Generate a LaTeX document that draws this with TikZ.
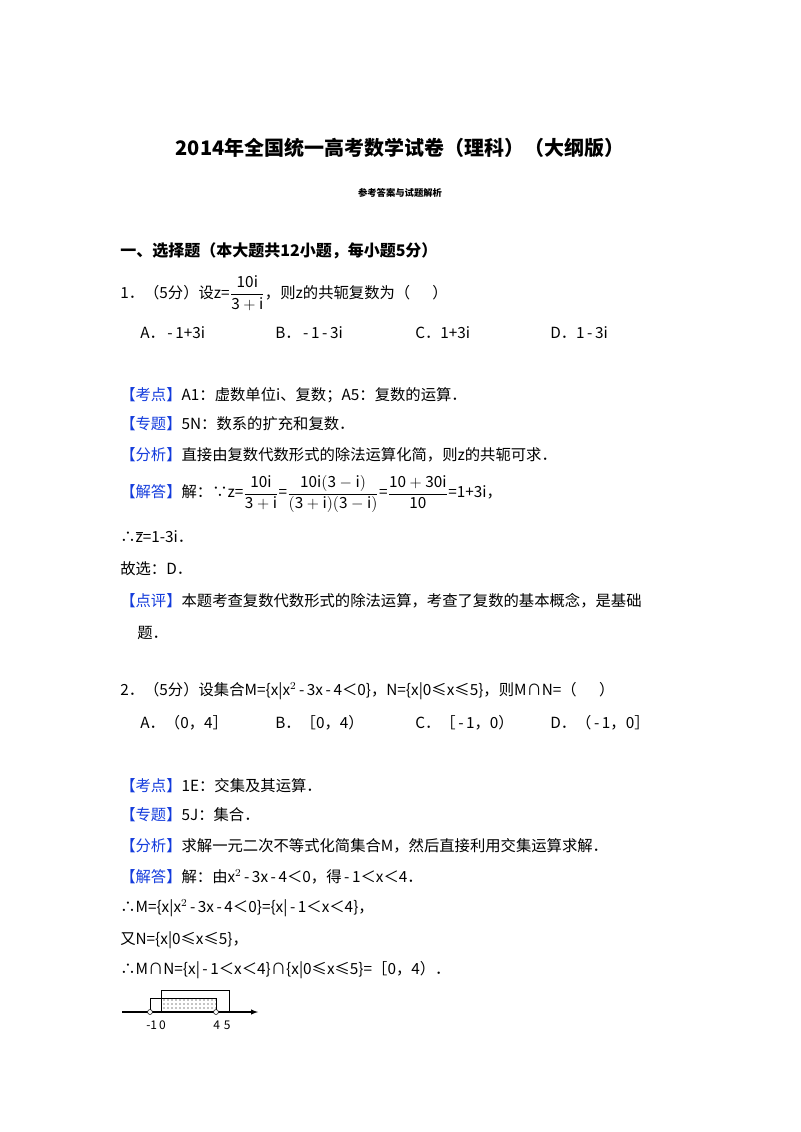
\documentclass[tikz,border=0pt]{standalone}
\usepackage{fontspec}
\setmainfont{Noto Sans CJK SC}
\usetikzlibrary{patterns}
\definecolor{tagblue}{RGB}{20,60,220}
\newcommand{\fr}[2]{$\displaystyle\frac{\mathrm{#1}}{\mathrm{#2}}$}
\begin{document}
\begin{tikzpicture}[x=0.75pt,y=-0.75pt,
  t/.style={anchor=west,inner sep=0pt,font=\fontsize{11.5}{14}\selectfont},
  tag/.style={t,text=tagblue}]
\useasboundingbox (0,0) rectangle (800,1132);
\node[font=\fontsize{15}{18}\selectfont\bfseries] (title) at (400,148) {2014年全国统一高考数学试卷（理科）（大纲版）};
\node[font=\fontsize{7}{9}\selectfont\bfseries] (sub) at (400,193) {参考答案与试题解析};
\node[t,font=\fontsize{12}{14}\selectfont\bfseries] (sec) at (120,251) {一、选择题（本大题共12小题，每小题5分）};
\node[t] (q1) at (120,293) {1．（5分）设z=\fr{10i}{3+i}，则z的共轭复数为（\quad\ \ ）};
\node[t] (a1) at (140,333) {A．\,-\,1+3i};
\node[t] (b1) at (275,333) {B．\,-\,1\,-\,3i};
\node[t] (c1) at (415,333) {C．1+3i};
\node[t] (d1) at (550,333) {D．1\,-\,3i};
\node[t] (k1) at (120,395) {\textcolor{tagblue}{【考点】}A1：虚数单位i、复数；A5：复数的运算．};
\node[t] (z1) at (120,424) {\textcolor{tagblue}{【专题】}5N：数系的扩充和复数．};
\node[t] (f1) at (120,455) {\textcolor{tagblue}{【分析】}直接由复数代数形式的除法运算化简，则z的共轭可求．};
\node[t] (j1) at (120,494) {\textcolor{tagblue}{【解答】}解：∵z=\fr{10i}{3+i}=\fr{10i(3-i)}{(3+i)(3-i)}=\fr{10+30i}{10}=1+3i，};
\node[t] (s1) at (120,537) {∴$\overline{\mathrm{z}}$=1-3i．};
\node[t] (g1) at (120,569) {故选：D．};
\node[t] (p1) at (120,601) {\textcolor{tagblue}{【点评】}本题考查复数代数形式的除法运算，考查了复数的基本概念，是基础};
\node[t] (p1b) at (137,633) {题．};
\node[t] (q2) at (120,691) {2．（5分）设集合M=\{x|x$^2$\,-\,3x\,-\,4＜0\}，N=\{x|0≤x≤5\}，则M∩N=（\quad\ \ ）};
\node[t] (a2) at (140,723) {A．（0，4］};
\node[t] (b2) at (275,723) {B．［0，4）};
\node[t] (c2) at (415,723) {C．［\,-\,1，0）};
\node[t] (d2) at (550,723) {D．（\,-\,1，0］};
\node[t] (k2) at (120,786) {\textcolor{tagblue}{【考点】}1E：交集及其运算．};
\node[t] (z2) at (120,815) {\textcolor{tagblue}{【专题】}5J：集合．};
\node[t] (f2) at (120,846) {\textcolor{tagblue}{【分析】}求解一元二次不等式化简集合M，然后直接利用交集运算求解．};
\node[t] (j2) at (120,877) {\textcolor{tagblue}{【解答】}解：由x$^2$\,-\,3x\,-\,4＜0，得\,-\,1＜x＜4．};
\node[t] (s2) at (120,908) {∴M=\{x|x$^2$\,-\,3x\,-\,4＜0\}=\{x|\,-\,1＜x＜4\}，};
\node[t] (y2) at (120,940) {又N=\{x|0≤x≤5\}，};
\node[t] (r2) at (120,970) {∴M∩N=\{x|\,-\,1＜x＜4\}∩\{x|0≤x≤5\}=［0，4）．};
% number line
\coordinate (L) at (122,1012);
\coordinate (R) at (258,1012);
\draw[thick,-latex] (L) -- (R);
\fill[pattern=dots] (161,999) rectangle (216,1008);
\draw (150,1012) -- (150,998) -- (216,998) -- (216,1012);
\draw (161,1012) -- (161,990) -- (229,990) -- (229,1012);
\node[circle,draw,fill=white,inner sep=1.3pt] (m1) at (150,1012) {};
\node[circle,draw,fill=white,inner sep=1.3pt] (m4) at (216,1012) {};
\node[font=\fontsize{9}{10}\selectfont\rmfamily] (l1) at (156,1025) {-1\,0};
\node[font=\fontsize{9}{10}\selectfont\rmfamily] (l4) at (222,1025) {4\,\,5};
\end{tikzpicture}
\end{document}
